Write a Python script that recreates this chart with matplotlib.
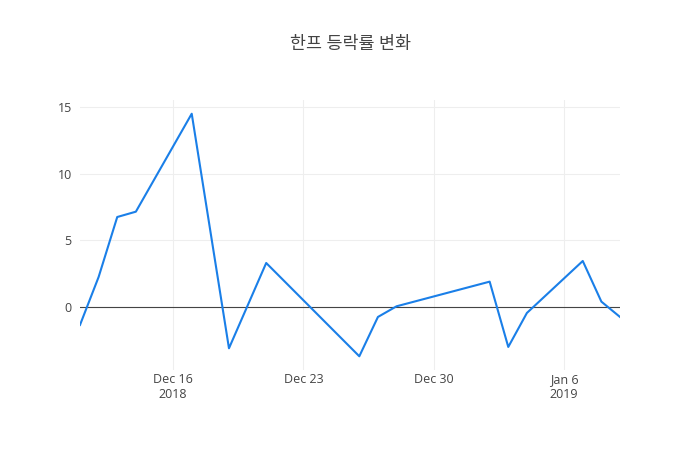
import datetime as dt

import matplotlib.pyplot as plt

plt.rcParams['font.family'] = ['Open Sans', 'Noto Sans CJK KR', 'DejaVu Sans']

TITLE = "한프 등락률 변화"

dates = [
    "2018-12-11", "2018-12-12", "2018-12-13", "2018-12-14", "2018-12-17",
    "2018-12-19", "2018-12-21", "2018-12-26", "2018-12-27", "2018-12-28",
    "2019-01-02", "2019-01-03", "2019-01-04", "2019-01-07", "2019-01-08",
    "2019-01-09",
]
changes = [
    -1.35, 2.25, 6.75, 7.15, 14.5,
    -3.1, 3.3, -3.7, -0.75, 0.05,
    1.9, -3.0, -0.45, 3.45, 0.4,
    -0.75,
]

xtick_dates = ["2018-12-16", "2018-12-23", "2018-12-30", "2019-01-06"]
xtick_labels = ["Dec 16\n2018", "Dec 23", "Dec 30", "Jan 6\n2019"]
yticks = [0, 5, 10, 15]

x = [dt.datetime.strptime(d, "%Y-%m-%d") for d in dates]
xt = [dt.datetime.strptime(d, "%Y-%m-%d") for d in xtick_dates]

fig = plt.figure(figsize=(7, 4.5), dpi=100)
ax = fig.add_axes([80 / 700, 80 / 450, 540 / 700, 270 / 450])

ax.plot(x, changes, color="#1a7fe8", linewidth=1.5, zorder=3)
ax.axhline(0, color="#444444", linewidth=0.8, zorder=2)

ax.set_xlim(x[0], x[-1])
ax.set_ylim(-4.73, 15.53)
ax.set_xticks(xt)
ax.set_xticklabels(xtick_labels, linespacing=1.25)
ax.set_yticks(yticks)
ax.grid(True, color="#eeeeee", linewidth=0.75, zorder=0)
ax.tick_params(axis="x", length=0, labelsize=9, colors="#444444", pad=2)
ax.tick_params(axis="y", length=0, labelsize=9, colors="#444444", pad=6)
for s in ax.spines.values():
    s.set_visible(False)

fig.text(0.5, 1 - 45 / 450, TITLE, ha="center", va="center",
         fontsize=12.5, color="#444444")

fig.savefig("out.png", dpi=100)
